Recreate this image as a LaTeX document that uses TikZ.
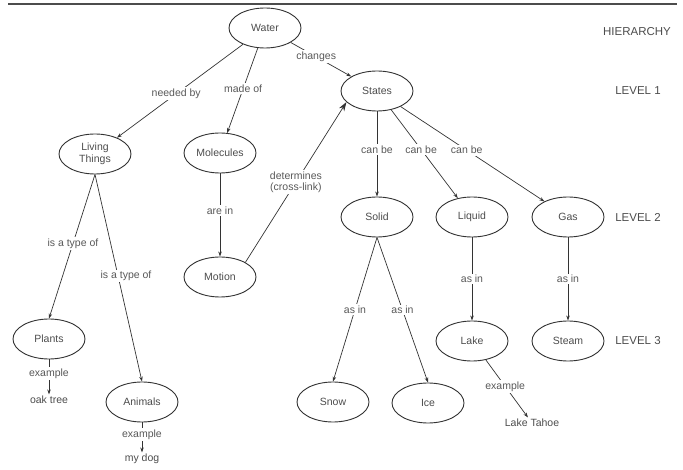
\documentclass[tikz,border=0pt]{standalone}
\usepackage{fontspec}
\setmainfont{Liberation Sans}
\usetikzlibrary{arrows.meta}
\usetikzlibrary{positioning,shapes.geometric}

\begin{document}
\begin{tikzpicture}[x=1pt, y=-1pt,
		concept/.style={ellipse, draw=black!80, line width=0.9pt, minimum width=72pt, minimum height=40pt,
				inner sep=0pt, text=black!70, align=center, font=\fontsize{10.5}{11.5}\selectfont},
		link/.style={draw=black!80, line width=0.7pt, -{Stealth[length=5pt,width=3.5pt]}},
		crosslink/.style={draw=black!80, line width=0.7pt, -{Stealth[length=9pt,width=6pt]}},
		lbl/.style={fill=white, inner sep=1.5pt, text=black!65, align=center, font=\fontsize{10.5}{11.5}\selectfont},
		leaf/.style={inner sep=1.5pt, text=black!70, font=\fontsize{10.5}{11.5}\selectfont},
		level/.style={text=black!70, font=\fontsize{11.5}{12}\selectfont}]
	\useasboundingbox (0,0) rectangle (683,470);
	\draw [black!70, line width=2.5pt] (8,4) -- (677,4);

	\node (water) [concept] at (265,28) {Water};
	\node (states) [concept] at (377,91) {States};
	\node (living) [concept] at (95,154) {Living\\Things};
	\node (molecules) [concept] at (220,153) {Molecules};
	\node (motion) [concept] at (220,277) {Motion};
	\node (solid) [concept] at (377,217) {Solid};
	\node (liquid) [concept] at (472,217) {Liquid};
	\node (gas) [concept] at (568,217) {Gas};
	\node (plants) [concept] at (49,339) {Plants};
	\node (animals) [concept] at (142,402) {Animals};
	\node (snow) [concept] at (333,402) {Snow};
	\node (ice) [concept] at (428,403) {Ice};
	\node (lake) [concept] at (472,341) {Lake};
	\node (steam) [concept] at (568,341) {Steam};

	\node (oaktree) [leaf, below=35pt of plants] {oak tree};
	\node (mydog) [leaf, below=30pt of animals] {my dog};
	\node (tahoe) [leaf] at (532,423) {Lake Tahoe};

	\node (hierarchy) [level] at (637,32) {HIERARCHY};
	\node (level1) [level] at (638,91) {LEVEL 1};
	\node (level2) [level] at (638,217) {LEVEL 2};
	\node (level3) [level] at (638,341) {LEVEL 3};

	\draw [link] (water) -- node [lbl, pos=0.53] {needed by} (living);
	\draw [link] (water) -- node [lbl, pos=0.48] {made of} (molecules);
	\draw [link] (water) -- node [lbl, pos=0.42] {changes} (states);
	\draw [crosslink] (motion.30) -- node [lbl, pos=0.5] {determines\\(cross-link)} (states.200);
	\draw [link] (molecules) -- node [lbl, pos=0.45] {are in} (motion);
	\draw [link] (living.south) -- node [lbl, pos=0.48] {is a type of} (plants.north);
	\draw [link] (living.south) -- node [lbl, pos=0.49, xshift=8pt] {is a type of} (animals.north);
	\draw [link] (states) -- node [lbl, pos=0.45] {can be} (solid);
	\draw [link] (states) -- node [lbl, pos=0.45] {can be} (liquid);
	\draw [link] (states) -- node [lbl, pos=0.46] {can be} (gas);
	\draw [link] (solid.south) -- node [lbl, pos=0.5] {as in} (snow.north);
	\draw [link] (solid.south) -- node [lbl, pos=0.5] {as in} (ice.north);
	\draw [link] (liquid) -- node [lbl, pos=0.5] {as in} (lake);
	\draw [link] (gas) -- node [lbl, pos=0.5] {as in} (steam);
	\draw [link] (lake) -- node [lbl, pos=0.46] {example} (tahoe);
	\draw [link] (plants) -- node [lbl, pos=0.4] {example} (oaktree);
	\draw [link] (animals) -- node [lbl, pos=0.4] {example} (mydog);
\end{tikzpicture}
\end{document}
